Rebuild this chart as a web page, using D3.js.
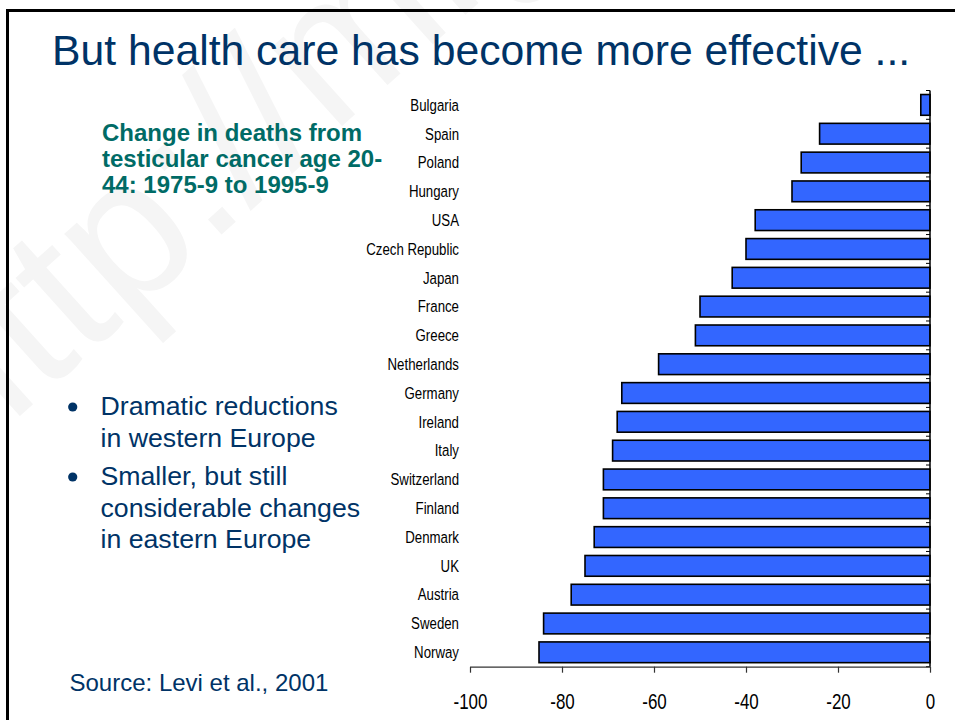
<!DOCTYPE html>
<html>
<head>
<meta charset="utf-8">
<script src="https://cdn.jsdelivr.net/npm/d3@7"></script>
<style>
  html, body { margin: 0; padding: 0; background: #fff; }
  svg { display: block; font-family: "Liberation Sans", Arial, sans-serif; }
</style>
</head>
<body>
<svg id="slide" width="955" height="720"></svg>
<script>
// Countries, top to bottom
const countries = ["Bulgaria", "Spain", "Poland", "Hungary", "USA", "Czech Republic",
  "Japan", "France", "Greece", "Netherlands", "Germany", "Ireland", "Italy",
  "Switzerland", "Finland", "Denmark", "UK", "Austria", "Sweden", "Norway"];
// % change in deaths from testicular cancer, age 20-44, 1975-9 to 1995-9
const change = [-2, -24, -28, -30, -38, -40, -43, -50, -51, -59, -67, -68, -69,
  -71, -71, -73, -75, -78, -84, -85];
const xTicks = [-100, -80, -60, -40, -20, 0];

const titleText = "But health care has become more effective ...";
const subtitleLines = ["Change in deaths from", "testicular cancer age 20-", "44: 1975-9 to 1995-9"];
const bullets = [["Dramatic reductions", "in western Europe"],
                 ["Smaller, but still", "considerable changes", "in eastern Europe"]];
const sourceText = "Source: Levi et al., 2001";

const svg = d3.select("#slide");
const navy = "#003366";

// faint watermark
svg.append("text")
  .attr("transform", "translate(-40,470) rotate(-42)")
  .attr("font-size", 200)
  .attr("fill", "#f5f5f5")
  .text("http://mig");

// slide frame
svg.append("rect")
  .attr("x", 7.5).attr("y", 10.5).attr("width", 960).attr("height", 720)
  .attr("fill", "none").attr("stroke", "#000").attr("stroke-width", 3);

// title
svg.append("text")
  .attr("x", 52).attr("y", 64.5)
  .attr("font-size", 42.7).attr("fill", navy)
  .text(titleText);

// chart subtitle
svg.append("g").selectAll("text").data(subtitleLines).join("text")
  .attr("x", 102).attr("y", (d, i) => 140.7 + i * 26)
  .attr("font-size", 24).attr("font-weight", "bold").attr("fill", "#006B66")
  .text(d => d);

// bullet points
const lineGap = 31.5, paraGap = 38.5;
let by = 415;
bullets.forEach(par => {
  svg.append("circle").attr("cx", 72.7).attr("cy", by - 8).attr("r", 4.6).attr("fill", navy);
  par.forEach((line, j) => {
    svg.append("text").attr("x", 100.5).attr("y", by)
      .attr("font-size", 26.7).attr("fill", navy).text(line);
    by += (j < par.length - 1) ? lineGap : paraGap;
  });
});

// source
svg.append("text").attr("x", 69.5).attr("y", 691)
  .attr("font-size", 24).attr("fill", navy).text(sourceText);

// ---- bar chart ----
const x = d3.scaleLinear().domain([-100, 0]).range([470, 930]);
const y = d3.scaleBand().domain(countries).range([90.5, 666.7])
  .paddingInner(0.28).paddingOuter(0.14);
const step = y.step();

const chart = svg.append("g");

// category boundary ticks on the zero line
const bounds = countries.map(c => y(c) - step * y.paddingInner() / 2)
  .concat([y(countries[countries.length - 1]) + y.bandwidth() + step * y.paddingInner() / 2]);
chart.append("g").selectAll("line").data(bounds).join("line")
  .attr("x1", x(0) - 4).attr("x2", x(0))
  .attr("y1", d => d).attr("y2", d => d)
  .attr("stroke", "#000").attr("stroke-width", 1);

// bars
chart.append("g").selectAll("rect").data(countries).join("rect")
  .attr("x", (d, i) => x(change[i]))
  .attr("y", d => y(d))
  .attr("width", (d, i) => x(0) - x(change[i]))
  .attr("height", y.bandwidth())
  .attr("fill", "#3366FF")
  .attr("stroke", "#000").attr("stroke-width", 1.6);

// vertical zero line
chart.append("line")
  .attr("x1", x(0)).attr("x2", x(0))
  .attr("y1", bounds[0]).attr("y2", bounds[bounds.length - 1])
  .attr("stroke", "#000").attr("stroke-width", 1.5);

// category labels (condensed)
chart.append("g").selectAll("text").data(countries).join("text")
  .attr("transform", d => `translate(459,${y(d) + y.bandwidth() / 2 + 5.8}) scale(0.78,1)`)
  .attr("text-anchor", "end")
  .attr("font-size", 17).attr("fill", "#000")
  .text(d => d);

// value axis
const xAxis = chart.append("g")
  .attr("transform", `translate(0,${bounds[bounds.length - 1]})`)
  .call(d3.axisBottom(x).tickValues(xTicks).tickSize(6).tickSizeOuter(0).tickFormat(d3.format("d")));
xAxis.select(".domain").attr("stroke", "#333").attr("stroke-width", 1.2);
xAxis.selectAll(".tick line").attr("stroke", "#333").attr("stroke-width", 1.2);
xAxis.selectAll(".tick text")
  .attr("y", 0).attr("dy", 0)
  .attr("transform", "translate(0,42.5) scale(0.77,1)")
  .attr("font-size", 22).attr("fill", "#000")
  .attr("font-family", "Liberation Sans, Arial, sans-serif")
  .text(d => d === 0 ? "0" : String(d).replace("−", "-"));
</script>
</body>
</html>
